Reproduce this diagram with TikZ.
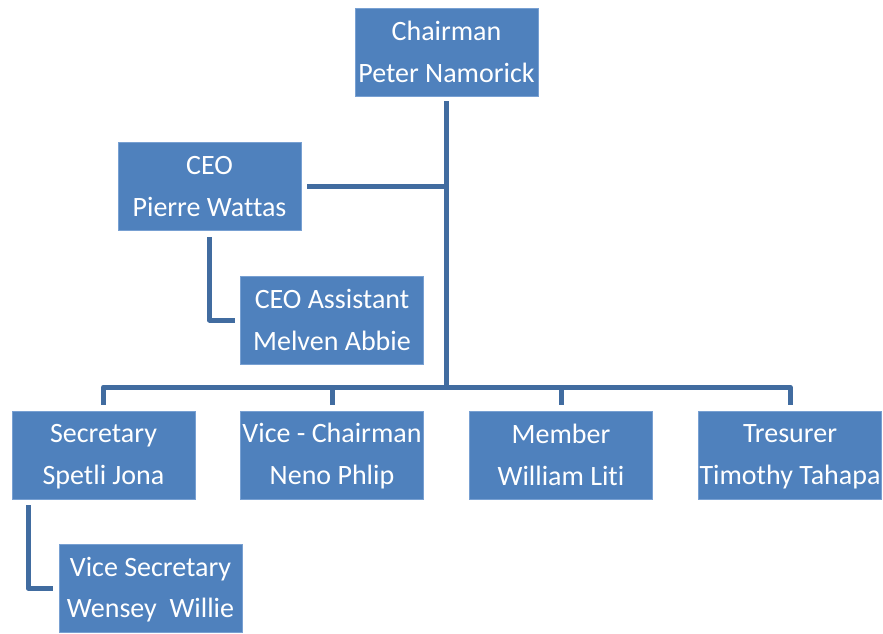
\documentclass[tikz,border=0pt]{standalone}
\usepackage{fontspec}
\setmainfont{Carlito}[Ligatures={NoCommon}]
\usetikzlibrary{calc}
\definecolor{boxfill}{RGB}{79,129,189}
\definecolor{boxedge}{RGB}{120,160,210}
\definecolor{linkcol}{RGB}{65,108,160}
\newcommand\orgtext[2]{\rule[-3.5pt]{0pt}{25.5pt}#1\\\rule[-3.5pt]{0pt}{25.5pt}#2}
\begin{document}
\begin{tikzpicture}[x=1pt,y=-1pt,
  orgbox/.style={rectangle, fill=boxfill, draw=boxedge, line width=0.8pt,
    minimum width=183pt, minimum height=88pt, inner sep=0pt, align=center,
    text=white, font=\fontsize{28}{41.5}\selectfont},
  link/.style={draw=linkcol, line width=5pt, line join=round}]
\useasboundingbox (0,0) rectangle (883,634);
\node[orgbox] (chair) at (446.5,52) {\orgtext{Chairman}{Peter Namorick}};
\node[orgbox] (ceo) at (209.5,186) {\orgtext{CEO}{Pierre Wattas}};
\node[orgbox] (asst) at (332,320) {\orgtext{CEO Assistant}{Melven Abbie}};
\node[orgbox] (sec) at (103.5,455) {\orgtext{Secretary}{Spetli Jona}};
\node[orgbox] (vice) at (332,455) {\orgtext{Vice - Chairman}{Neno Phlip}};
\node[orgbox] (memb) at (561,455) {\orgtext{Member}{William Liti}};
\node[orgbox] (tres) at (790,455) {\orgtext{Tresurer}{Timothy Tahapa}};
\node[orgbox] (vsec) at (150.5,588) {\orgtext{Vice Secretary}{Wensey~~Willie}};
\coordinate (busL) at (103.5,387);
\coordinate (busR) at (790,387);
\coordinate (busM) at (446.5,387);
% main trunk
\draw[link] ($(chair.south)+(0,5)$) -- (busM);
% CEO branch
\draw[link] ($(ceo.east)+(6,0)$) -- (446.5,186);
% bus and drops
\draw[link] ($(sec.north)+(0,-6)$) -- (busL) -- (busR) -- ($(tres.north)+(0,-6)$);
\draw[link] ($(vice.north)+(0,-6)$) -- (332,387);
\draw[link] ($(memb.north)+(0,-6)$) -- (561,387);
% CEO to assistant
\draw[link] ($(ceo.south)+(0,7)$) |- ($(asst.west)+(-5,0)$);
% Secretary to vice secretary
\draw[link] ($(sec.south)+(-75.5,6)$) |- ($(vsec.west)+(-6,0)$);
\end{tikzpicture}
\end{document}
